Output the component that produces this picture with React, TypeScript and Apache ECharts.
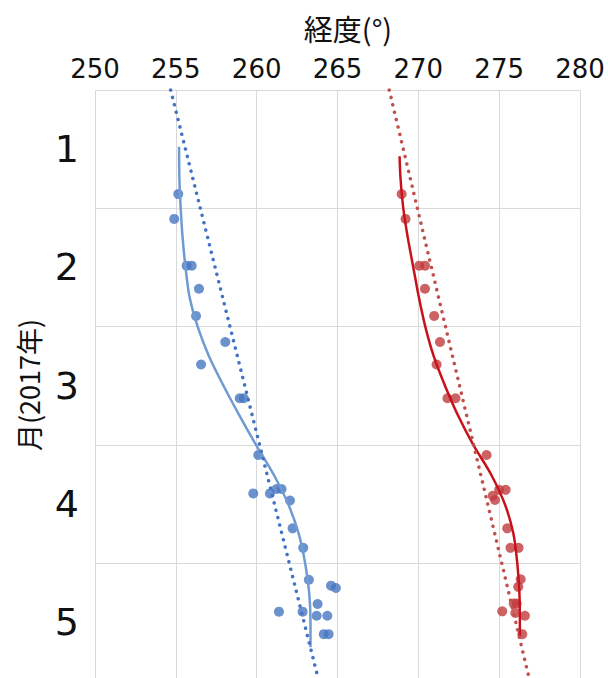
import React, { useEffect, useRef } from "react";
import * as echarts from "echarts";

// Longitude ticks
const lonTicks = [250, 255, 260, 265, 270, 275, 280];
const monthLabels = [1, 2, 3, 4, 5];

// Blue observations (longitude, month)
const blueLon = [255.15, 254.9, 255.67, 255.98, 256.43, 256.25, 258.06, 256.56, 258.95, 259.2, 260.1, 259.79, 260.82, 261.23, 261.54, 262.06, 262.22, 262.88, 263.23, 264.6, 264.9, 263.77, 261.38, 262.84, 263.71, 264.37, 264.15, 264.45];
const blueMonth = [1.38, 1.59, 1.985, 1.985, 2.18, 2.41, 2.63, 2.82, 3.106, 3.106, 3.585, 3.91, 3.91, 3.873, 3.873, 3.97, 4.205, 4.37, 4.64, 4.69, 4.71, 4.845, 4.91, 4.91, 4.944, 4.944, 5.1, 5.1];

// Red observations (longitude, month)
const redLon = [268.97, 269.21, 270.06, 270.41, 270.41, 270.98, 271.34, 271.13, 271.8, 272.3, 274.22, 275.0, 275.4, 274.74, 274.6, 275.5, 275.7, 276.2, 276.33, 276.18, 276.08, 275.9, 275.19, 276.59, 276.0, 276.43];
const redMonth = [1.38, 1.59, 1.985, 1.985, 2.18, 2.41, 2.63, 2.82, 3.106, 3.106, 3.585, 3.88, 3.88, 3.966, 3.93, 4.205, 4.37, 4.37, 4.636, 4.7, 4.84, 4.84, 4.907, 4.944, 4.92, 5.1];

// Blue fitted curve
const blueFitLon = [255.2, 255.22, 255.3, 255.42, 255.6, 255.85, 256.35, 257.05, 257.95, 258.93, 259.96, 261.05, 261.95, 262.6, 263.0, 263.25, 263.33, 263.33];
const blueFitMonth = [0.98, 1.25, 1.5, 1.75, 2.0, 2.25, 2.5, 2.75, 3.0, 3.25, 3.5, 3.75, 4.0, 4.25, 4.5, 4.75, 5.0, 5.21];

// Red fitted curve
const redFitLon = [268.84, 268.9, 269.07, 269.35, 269.69, 270.03, 270.43, 270.95, 271.65, 272.45, 273.4, 274.5, 275.35, 275.88, 276.12, 276.25, 276.28, 276.28];
const redFitMonth = [1.06, 1.25, 1.5, 1.75, 2.0, 2.25, 2.5, 2.75, 3.0, 3.25, 3.5, 3.75, 4.0, 4.25, 4.5, 4.75, 5.0, 5.12];

// Linear trend lines (endpoints)
const blueTrendLon = [254.68, 263.85];
const blueTrendMonth = [0.5, 5.5];
const redTrendLon = [268.2, 276.9];
const redTrendMonth = [0.5, 5.5];

const zip = (xs: number[], ys: number[]) => xs.map((x, i) => [x, ys[i]]);

export default function App() {
  const ref = useRef<HTMLDivElement>(null);
  useEffect(() => {
    if (!ref.current) return;
    const chart = echarts.init(ref.current, undefined, { renderer: "svg" });
    const digitFont = "DejaVu Sans";
    chart.setOption({
      animation: false,
      backgroundColor: "#ffffff",
      grid: { left: 95, right: 28, top: 90, bottom: 8.5, containLabel: false },
      xAxis: {
        type: "value",
        position: "top",
        min: lonTicks[0],
        max: lonTicks[lonTicks.length - 1],
        interval: 5,
        axisLine: { show: false },
        axisTick: { show: false },
        axisLabel: { fontSize: 26, color: "#111", fontFamily: digitFont, margin: 8 },
        splitLine: { show: true, lineStyle: { color: "#d9d9d9", width: 1 } },
      },
      yAxis: [
        {
          type: "value",
          inverse: true,
          min: 0.5,
          max: 5.5,
          interval: 0.5,
          axisLine: { show: false },
          axisTick: { show: false },
          splitLine: { show: false },
          axisLabel: {
            fontSize: 38,
            color: "#111",
            fontFamily: digitFont,
            margin: 16,
            formatter: (v: number) => (monthLabels.indexOf(v) >= 0 ? String(v) : ""),
          },
        },
        {
          type: "value",
          inverse: true,
          position: "left",
          min: 0.5,
          max: 5.5,
          interval: 1,
          axisLine: { show: false },
          axisTick: { show: false },
          axisLabel: { show: false },
          splitLine: { show: true, lineStyle: { color: "#d9d9d9", width: 1 } },
        },
      ],
      graphic: [
        {
          type: "text",
          x: 348,
          y: 28,
          style: {
            text: "経度(°)",
            fill: "#111",
            font: '29px "Noto Sans CJK JP"',
            align: "center",
            verticalAlign: "middle",
          },
        },
        {
          type: "text",
          x: 28,
          y: 385,
          rotation: Math.PI / 2,
          style: {
            text: "月(2017年)",
            fill: "#111",
            font: '27px "Noto Sans CJK JP"',
            align: "center",
            verticalAlign: "middle",
          },
        },
      ],
      series: [
        {
          type: "scatter",
          data: zip(blueLon, blueMonth),
          symbolSize: 10,
          itemStyle: { color: "#4677c0" },
          z: 2,
        },
        {
          type: "scatter",
          data: zip(redLon, redMonth),
          symbolSize: 10,
          itemStyle: { color: "#c13b3e" },
          z: 2,
        },
        {
          type: "line",
          data: zip(blueFitLon, blueFitMonth),
          smooth: 0.3,
          showSymbol: false,
          symbol: "none",
          lineStyle: { color: "#6f9bd2", width: 2.5 },
          z: 3,
        },
        {
          type: "line",
          data: zip(redFitLon, redFitMonth),
          smooth: 0.3,
          showSymbol: false,
          symbol: "none",
          lineStyle: { color: "#c8121b", width: 2.5 },
          z: 3,
        },
        {
          type: "line",
          data: zip(blueTrendLon, blueTrendMonth),
          showSymbol: false,
          symbol: "none",
          lineStyle: { color: "#4472c4", width: 3.5, type: [0.1, 7.5], cap: "round" },
          z: 4,
        },
        {
          type: "line",
          data: zip(redTrendLon, redTrendMonth),
          showSymbol: false,
          symbol: "none",
          lineStyle: { color: "#c0504d", width: 3.5, type: [0.1, 7.5], cap: "round" },
          z: 4,
        },
      ],
    });
    return () => chart.dispose();
  }, []);
  return (
    <div
      ref={ref}
      style={{ position: "absolute", left: 0, top: 0, width: 608, height: 690 }}
    />
  );
}
